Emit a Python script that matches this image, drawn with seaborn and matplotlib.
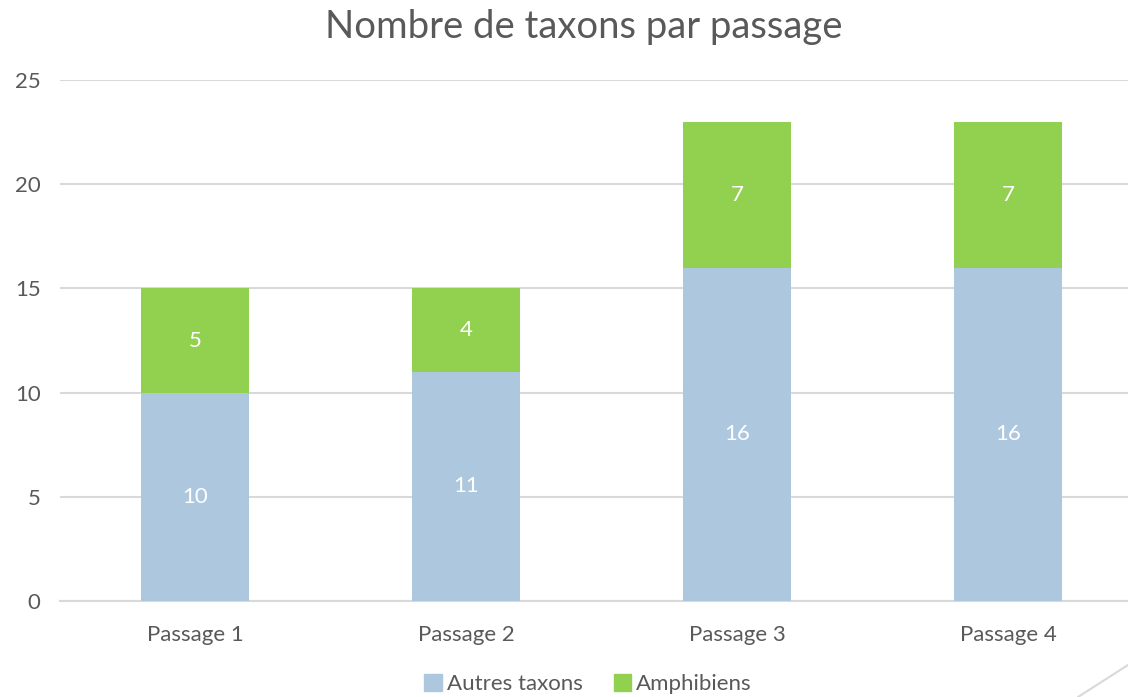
import pandas as pd
import numpy as np
import matplotlib.pyplot as plt
import seaborn as sns
from matplotlib.lines import Line2D
from matplotlib.patches import Patch

sns.set_style('white')
plt.rcParams['font.family'] = ['Lato', 'DejaVu Sans']

passages = ['Passage 1', 'Passage 2', 'Passage 3', 'Passage 4']
autres = [10, 11, 16, 16]
amphibiens = [5, 4, 7, 7]

df = pd.DataFrame({'passage': passages, 'autres': autres, 'amphibiens': amphibiens})
df['total'] = df['autres'] + df['amphibiens']

c_bleu = '#adc8de'
c_vert = '#92d050'
c_txt = '#595959'

fig = plt.figure(figsize=(11.28, 6.97), dpi=100)
ax = fig.add_axes([60 / 1128, 96 / 697, 1 - 60 / 1128, 521 / 697])

sns.barplot(data=df, x='passage', y='total', color=c_vert, width=0.4,
            saturation=1, linewidth=0, ax=ax, zorder=2)
sns.barplot(data=df, x='passage', y='autres', color=c_bleu, width=0.4,
            saturation=1, linewidth=0, ax=ax, zorder=3)

# valeurs au centre des segments
for i, row in df.iterrows():
    ax.text(i, row['autres'] / 2, str(row['autres']), ha='center', va='center',
            color='white', fontsize=16, zorder=4)
    ax.text(i, row['autres'] + row['amphibiens'] / 2, str(row['amphibiens']),
            ha='center', va='center', color='white', fontsize=16, zorder=4)

ax.set_ylim(0, 25)
ax.set_yticks([0, 5, 10, 15, 20, 25])
ax.set_xlim(-0.498, (1128 - 195) / 271)
ax.yaxis.grid(True, color='#d9d9d9', linewidth=1.5, zorder=0)
ax.set_axisbelow(True)
for s in ['top', 'right', 'left']:
    ax.spines[s].set_visible(False)
ax.spines['bottom'].set_color('#d9d9d9')
ax.spines['bottom'].set_linewidth(1.5)
ax.tick_params(axis='both', length=0, labelsize=16, labelcolor=c_txt)
ax.tick_params(axis='y', pad=14)
ax.tick_params(axis='x', pad=17)
ax.set_xlabel('')
ax.set_ylabel('')

fig.text(584 / 1128, 1 - 27 / 697, 'Nombre de taxons par passage', ha='center',
         va='center', fontsize=27.5, color=c_txt)

handles = [Patch(color=c_bleu, label='Autres taxons'),
           Patch(color=c_vert, label='Amphibiens')]
fig.legend(handles=handles, loc='center', bbox_to_anchor=(588 / 1128, 1 - 684 / 697),
           ncol=2, frameon=False, fontsize=16, labelcolor=c_txt,
           handlelength=0.8, handleheight=0.8, handletextpad=0.2, columnspacing=1.4)

# petit trait décoratif en bas à droite
fig.add_artist(Line2D([1078 / 1128, 1.0], [0.0, 32 / 697], color='#d9d9d9',
                      linewidth=1.5, transform=fig.transFigure))

plt.savefig('out.png', dpi=100)
